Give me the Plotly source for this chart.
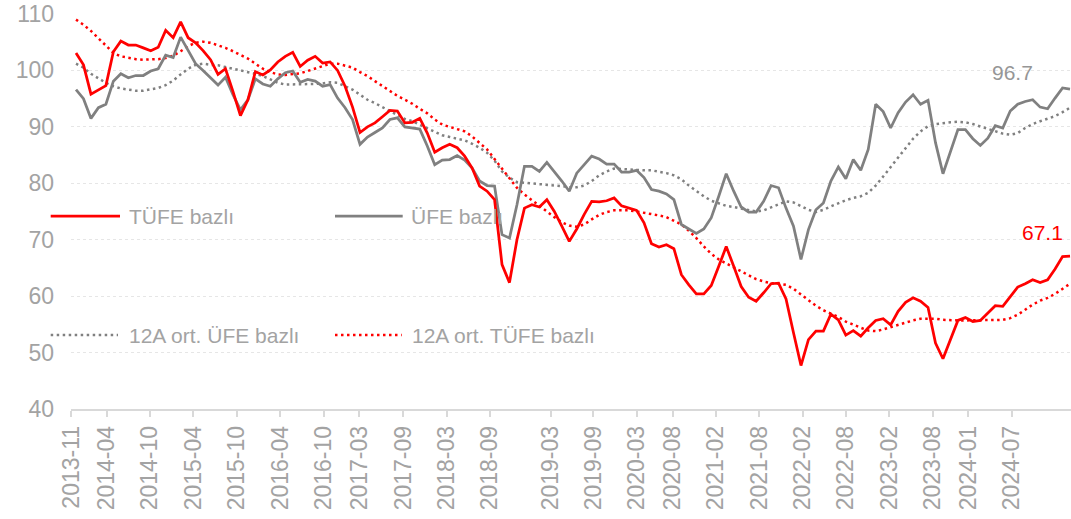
import plotly.graph_objects as go

# ---------------- data (monthly, 2013-11 ... 2024-12) ----------------
months = [f"{2013 + (10 + k) // 12}-{(10 + k) % 12 + 1:02d}" for k in range(134)]

tufe = [103.1, 101.0, 95.8, 96.6, 97.3, 103.3, 105.2, 104.5, 104.5, 104.0,
        103.5, 104.1, 107.1, 105.8, 108.6, 105.8, 104.9, 103.5, 101.9, 99.3,
        100.3, 96.3, 92.0, 94.8, 99.8,
        99.2, 100.1, 101.5, 102.5, 103.2, 100.7, 101.8, 102.5, 101.3, 101.5,
        100.0, 97.2, 93.5, 89.0, 90.0, 90.7, 91.8, 92.9, 92.8, 90.7,
        90.8, 91.5, 88.9, 85.5, 86.3, 86.9, 86.3, 84.8, 82.7, 79.5,
        78.6, 77.1,
        65.6, 62.4, 70.0, 75.6, 76.2, 75.8, 77.1, 75.0, 72.4, 69.7,
        71.9, 74.5, 76.8, 76.7, 76.9, 77.4, 76.0, 75.6, 75.2, 73.0,
        69.3, 68.7, 69.1, 68.4, 63.8, 62.0, 60.4, 60.4, 61.9, 65.3,
        68.8, 65.3, 61.7, 59.8, 59.1, 60.6, 62.2, 62.3,
        59.5, 53.5, 47.7, 52.3, 53.8, 53.8, 56.8, 55.8, 53.1, 53.9,
        52.9, 54.4, 55.7, 56.0, 54.9, 57.3, 58.9, 59.7, 59.1, 58.0,
        51.7, 48.9, 52.3, 55.7, 56.2, 55.5, 55.7, 57.0, 58.3, 58.2,
        60.0, 61.6, 62.2, 62.9, 62.4, 62.9, 64.8, 67.0, 67.1]

ufe = [96.6, 95.0, 91.5, 93.4, 94.0, 98.1, 99.4, 98.7, 99.1, 99.1,
       99.9, 100.3, 102.7, 102.3, 105.9, 103.5, 101.2, 100.0, 98.7, 97.4,
       98.8, 95.7, 93.0, 94.8, 98.5,
       97.6, 97.2, 98.5, 99.6, 99.9, 97.9, 98.4, 98.1, 97.2, 97.5,
       95.1, 93.4, 91.3, 86.9, 88.2, 89.0, 89.8, 91.3, 91.6, 90.0,
       89.8, 89.6, 86.6, 83.3, 84.1, 84.2, 84.9, 84.1, 82.7, 80.4,
       79.6, 79.5,
       70.9, 70.3, 76.2, 83.0, 83.0, 82.1, 83.7, 82.1, 80.4, 78.6,
       81.8, 83.3, 84.8, 84.3, 83.4, 83.4, 82.0, 82.0, 82.3, 81.0,
       78.9, 78.6, 78.1, 77.1, 72.7, 71.9, 71.1, 71.9, 73.9, 77.7,
       81.7, 78.6, 75.8, 74.9, 74.9, 76.8, 79.6, 79.2,
       75.6, 72.4, 66.5, 71.8, 75.3, 76.5, 80.4, 82.9, 80.8, 84.2,
       82.3, 86.0, 94.0, 92.7, 89.8, 92.5, 94.4, 95.7, 94.0, 94.7,
       87.2, 81.7, 85.7, 89.5, 89.5, 87.9, 86.7, 88.0, 90.2, 89.8,
       92.8, 94.0, 94.5, 94.8, 93.5, 93.2, 95.1, 96.9, 96.7]

ort_ufe = [101.2, 100.5, 99.4, 98.6, 97.8, 97.2, 96.8, 96.6, 96.4, 96.4,
           96.6, 96.9, 97.4, 98.2, 99.3, 100.3, 101.0, 101.2, 101.0, 100.9,
           100.6, 100.3, 100.0, 99.8, 99.4,
           99.0, 98.4, 97.8, 97.5, 97.5, 97.5, 97.5, 97.6, 97.7, 97.9,
           97.8, 97.2, 96.6, 95.7, 94.8, 94.2, 93.5, 92.9, 92.2, 91.4,
           91.0, 90.4, 89.8, 89.1, 88.5, 88.2, 87.9, 87.6, 87.0, 86.3,
           85.4, 84.0,
           82.1, 81.0, 80.2, 80.1, 79.9, 79.8, 79.7, 79.6, 79.5, 79.3,
           79.3, 79.6, 80.4, 81.4, 82.1, 82.6, 82.5, 82.4, 82.3, 82.3,
           82.3, 82.1, 81.8, 81.4, 80.7, 79.6, 78.6, 77.7, 76.9, 76.4,
           76.0, 75.8, 75.5, 75.2, 75.0, 75.2, 75.7, 76.3,
           76.8, 76.6, 76.0, 75.3, 74.9, 75.3, 75.9, 76.5, 77.0, 77.4,
           77.7, 78.3, 79.6, 81.2, 82.9, 84.5, 86.3, 87.9, 89.2, 90.1,
           90.5, 90.7, 90.8, 90.9, 90.8, 90.5, 90.1, 89.6, 89.2, 88.8,
           88.6, 88.9, 89.8, 90.5, 91.0, 91.4, 91.9, 92.6, 93.4]

ort_tufe = [109.0, 108.1, 107.0, 105.7, 104.3, 103.1, 102.5, 102.2, 102.0, 101.9,
            101.9, 102.0, 102.2, 102.6, 103.4, 104.3, 104.9, 105.1, 104.9, 104.5,
            104.0, 103.4, 102.8, 102.1, 101.2,
            100.3, 99.7, 99.3, 99.2, 99.3, 99.5, 99.9, 100.3, 100.8, 101.2,
            101.2, 100.9, 100.5, 99.7, 99.0, 98.1, 97.2, 96.3, 95.5, 94.8,
            94.1, 93.2, 92.4, 91.3, 90.4, 90.0, 89.6, 89.2, 88.3, 87.2,
            86.0, 84.3,
            82.6, 80.7, 79.2, 78.0, 77.0, 75.9, 74.9, 74.0, 73.1, 72.5,
            72.3, 72.7, 73.6, 74.4, 74.9, 75.2, 75.2, 75.2, 75.0, 74.8,
            74.5, 74.3, 74.0, 73.4, 72.7, 71.6, 70.3, 68.8, 67.5, 66.5,
            65.8, 65.1, 64.4, 63.6, 63.0, 62.6, 62.3, 62.2,
            62.0, 61.3, 60.3, 59.3, 58.3, 57.5, 56.9, 56.3, 55.5, 54.9,
            54.4, 53.9, 53.8, 54.1, 54.5, 54.9, 55.4, 55.7, 56.0, 56.0,
            56.0, 55.8, 55.7, 55.7, 55.7, 55.7, 55.7, 55.7, 55.7, 55.8,
            56.1, 56.7, 57.6, 58.5, 59.2, 59.7, 60.4, 61.3, 62.2]

for s in (tufe, ufe, ort_ufe, ort_tufe):
    assert len(s) == len(months), len(s)

# x-axis tick labels as printed in the source and where they sit (in month-index units)
tick_labels = ["2013-11", "2014-04", "2014-10", "2015-04", "2015-10", "2016-04",
               "2016-10", "2017-03", "2017-09", "2018-03", "2018-09", "2019-03",
               "2019-09", "2020-03", "2020-08", "2021-02", "2021-08", "2022-02",
               "2022-08", "2023-02", "2023-08", "2024-01", "2024-07"]
tick_pos = [-0.66, 4.11, 9.90, 15.69, 21.54, 27.30, 33.18, 37.90, 43.79, 49.60,
            55.39, 63.51, 69.21, 75.02, 79.84, 85.59, 91.42, 97.23, 103.02,
            108.82, 114.62, 119.39, 125.19]
y_ticks = [40, 50, 60, 70, 80, 90, 100, 110]

series_names = ["TÜFE bazlı", "ÜFE bazlı", "12A ort. ÜFE bazlı", "12A ort. TÜFE bazlı"]

RED = "#FF0000"
GRAY = "#808080"
TXT = "#A3A3A3"
FONT = "Liberation Sans, Arial, sans-serif"
DOT = "2.5px,3.5px"

x = list(range(len(months)))

fig = go.Figure()
fig.add_trace(go.Scatter(x=x, y=ort_ufe, mode="lines", name=series_names[2],
                         line=dict(color=GRAY, width=2.5, dash=DOT), text=months,
                         showlegend=False))
fig.add_trace(go.Scatter(x=x, y=ort_tufe, mode="lines", name=series_names[3],
                         line=dict(color=RED, width=2.5, dash=DOT), text=months,
                         showlegend=False))
fig.add_trace(go.Scatter(x=x, y=ufe, mode="lines", name=series_names[1],
                         line=dict(color=GRAY, width=2.75), text=months,
                         showlegend=False))
fig.add_trace(go.Scatter(x=x, y=tufe, mode="lines", name=series_names[0],
                         line=dict(color=RED, width=2.75), text=months,
                         showlegend=False))

# ---- page geometry (page body margin removed after plotting) ----
L, W, T, H = 71, 1000, 14, 395          # plot area in page pixels
FIG_W, FIG_H = 1071, 519


def px(p):
    return (p - L) / W


def py(p):
    return (T + H - p) / H


legend_items = [
    (series_names[0], RED, None, 50.7, 120, 127, 216),
    (series_names[1], GRAY, None, 335, 402.7, 409, 216),
    (series_names[2], GRAY, DOT, 50.7, 118, 127, 335),
    (series_names[3], RED, DOT, 335, 401.7, 410, 335),
]
shapes = []
annotations = []
for name, col, dash, x0, x1, tx, yy in legend_items:
    shapes.append(dict(type="line", xref="paper", yref="paper",
                       x0=px(x0), x1=px(x1), y0=py(yy), y1=py(yy),
                       line=dict(color=col, width=2.5 if dash else 2.75,
                                 dash=dash if dash else "solid")))
    annotations.append(dict(xref="paper", yref="paper", x=px(tx), y=py(yy),
                            text=name, showarrow=False, xanchor="left",
                            yanchor="middle",
                            font=dict(family=FONT, size=21, color=TXT)))

# end-value labels
annotations.append(dict(x=x[-1], y=ufe[-1], text=f"{ufe[-1]:.1f}", showarrow=False,
                        xanchor="center", yanchor="middle", xshift=-58, yshift=17,
                        font=dict(family=FONT, size=21, color="#969696")))
annotations.append(dict(x=x[-1], y=tufe[-1], text=f"{tufe[-1]:.1f}", showarrow=False,
                        xanchor="center", yanchor="middle", xshift=-28, yshift=24,
                        font=dict(family=FONT, size=21, color=RED)))

fig.update_layout(
    width=FIG_W, height=FIG_H,
    margin=dict(l=L, r=FIG_W - L - W, t=T, b=FIG_H - T - H, autoexpand=False),
    paper_bgcolor="white", plot_bgcolor="white",
    font=dict(family=FONT, size=21, color=TXT),
    shapes=shapes, annotations=annotations,
    showlegend=False,
    xaxis=dict(range=[-0.67, 133.13], tickmode="array", tickvals=tick_pos,
               ticktext=tick_labels, tickangle=-90, showgrid=False,
               showline=True, linecolor="#D9D9D9", linewidth=1.5,
               ticks="outside", ticklen=6, tickcolor="#D9D9D9", tickwidth=1.5,
               ticklabeloverflow="allow",
               tickfont=dict(family=FONT, size=23, color=TXT), zeroline=False),
    yaxis=dict(range=[40, 110], tickmode="array", tickvals=y_ticks,
               showgrid=True, gridcolor="#E6E6E6", griddash="dot", gridwidth=1,
               showline=False, zeroline=False, ticks="",
               ticklabelstandoff=16, ticklabeloverflow="allow",
               tickfont=dict(family=FONT, size=23, color=TXT)),
)

fig.write_html("out.html",
               config={"displayModeBar": False},
               post_script="document.body.style.margin='0';document.body.style.overflow='hidden';")
